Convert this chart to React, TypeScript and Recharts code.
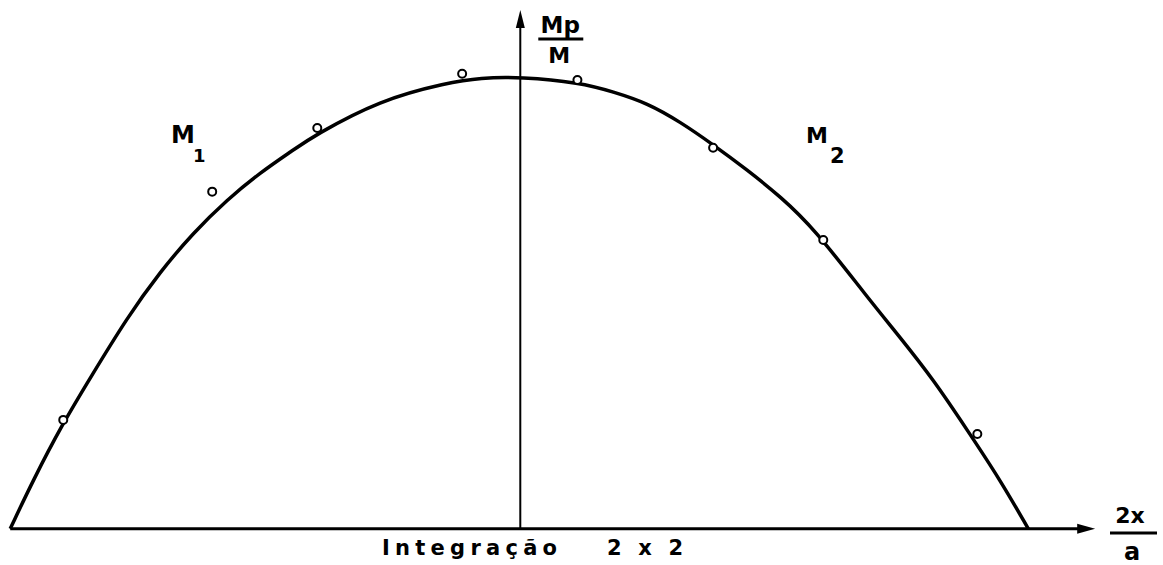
import {
  ComposedChart,
  Line,
  Scatter,
  XAxis,
  YAxis,
  ReferenceLine,
  ReferenceDot,
} from "recharts";

// fitted curve, 2x/a against Mp/M
const curveX = [
  -1.0, -0.955, -0.896, -0.843, -0.771, -0.706, -0.641, -0.575, -0.51, -0.445,
  -0.406, -0.275, -0.143, -0.078, 0, 0.118, 0.182, 0.249, 0.314, 0.378, 0.445,
  0.51, 0.575, 0.68, 0.745, 0.81, 0.876, 0.941, 0.996,
];
const curveY = [
  0, 0.108, 0.235, 0.334, 0.467, 0.569, 0.655, 0.728, 0.788, 0.838, 0.869,
  0.949, 0.987, 0.998, 1.0, 0.987, 0.967, 0.942, 0.9, 0.85, 0.794, 0.735,
  0.666, 0.513, 0.423, 0.33, 0.219, 0.108, 0,
];

// computed values (integration 2 x 2)
const pointX = [-0.896, -0.604, -0.398, -0.114, 0.112, 0.378, 0.594, 0.896];
const pointY = [0.241, 0.746, 0.887, 1.007, 0.993, 0.843, 0.639, 0.21];

const curve = curveX.map((x, i) => ({ x, y: curveY[i] }));
const points = pointX.map((x, i) => ({ x, y: pointY[i] }));

const W = 1163;
const H = 565;
const FONT = "'DejaVu Sans', 'Liberation Sans', sans-serif";
const INK = "#000";

const Ring = (p: any) => (
  <circle cx={p.cx} cy={p.cy} r={4} fill="#fff" stroke={INK} strokeWidth={2} />
);

const ArrowRight = (p: any) => (
  <polygon
    points={`${p.cx},${p.cy} ${p.cx - 18},${p.cy - 5} ${p.cx - 18},${p.cy + 5}`}
    fill={INK}
  />
);

const ArrowUp = (p: any) => (
  <polygon
    points={`${p.cx},${p.cy} ${p.cx - 4.5},${p.cy + 18} ${p.cx + 4.5},${p.cy + 18}`}
    fill={INK}
  />
);

export default function App() {
  return (
    <div style={{ position: "absolute", left: 0, top: 0, width: W, height: H, background: "#fff" }}>
      <ComposedChart
        width={W}
        height={H}
        margin={{ top: 0, right: 0, bottom: 0, left: 0 }}
      >
        <XAxis
          type="number"
          dataKey="x"
          domain={[-1.02, 1.26]}
          allowDataOverflow
          hide
        />
        <YAxis type="number" domain={[-0.08, 1.17]} allowDataOverflow hide />

        <ReferenceLine
          segment={[{ x: -1.0, y: 0 }, { x: 1.1, y: 0 }]}
          stroke={INK}
          strokeWidth={3}
        />
        <ReferenceLine
          segment={[{ x: 0, y: 0 }, { x: 0, y: 1.12 }]}
          stroke={INK}
          strokeWidth={2}
        />
        <ReferenceDot x={1.127} y={0} r={0} shape={ArrowRight} />
        <ReferenceDot x={0} y={1.148} r={0} shape={ArrowUp} />

        {/* B-spline keeps the hand-drawn curve smooth */}
        <Line
          data={curve}
          dataKey="y"
          type="basis"
          stroke={INK}
          strokeWidth={3.5}
          dot={false}
          activeDot={false}
          isAnimationActive={false}
        />
        <Scatter
          data={points}
          dataKey="y"
          shape={Ring}
          isAnimationActive={false}
        />

        {/* axis titles and curve labels */}
        <ReferenceDot
          x={0}
          y={0}
          r={0}
          shape={(p: any) => (
            <g fontFamily={FONT} fontWeight="bold" fill={INK}>
              <text x={p.cx + 40} y={33} fontSize={23} textAnchor="middle">Mp</text>
              <line x1={p.cx + 18} x2={p.cx + 63} y1={39} y2={39} stroke={INK} strokeWidth={3} />
              <text x={p.cx + 39} y={63} fontSize={22} textAnchor="middle">M</text>

              <text x={1130} y={523} fontSize={22} textAnchor="middle">2x</text>
              <line x1={1110} x2={1157} y1={533} y2={533} stroke={INK} strokeWidth={3} />
              <text x={1132} y={560} fontSize={24} textAnchor="middle">a</text>

              <text x={171} y={143} fontSize={24}>M</text>
              <text x={193} y={162} fontSize={18}>1</text>
              <text x={806} y={143} fontSize={22}>M</text>
              <text x={830} y={163} fontSize={21}>2</text>

              <text x={382} y={555} fontSize={21} textLength={175} lengthAdjust="spacing">
                Integração
              </text>
              <text x={607} y={555} fontSize={21} textLength={76} lengthAdjust="spacing">
                2 x 2
              </text>
            </g>
          )}
        />
      </ComposedChart>
    </div>
  );
}
